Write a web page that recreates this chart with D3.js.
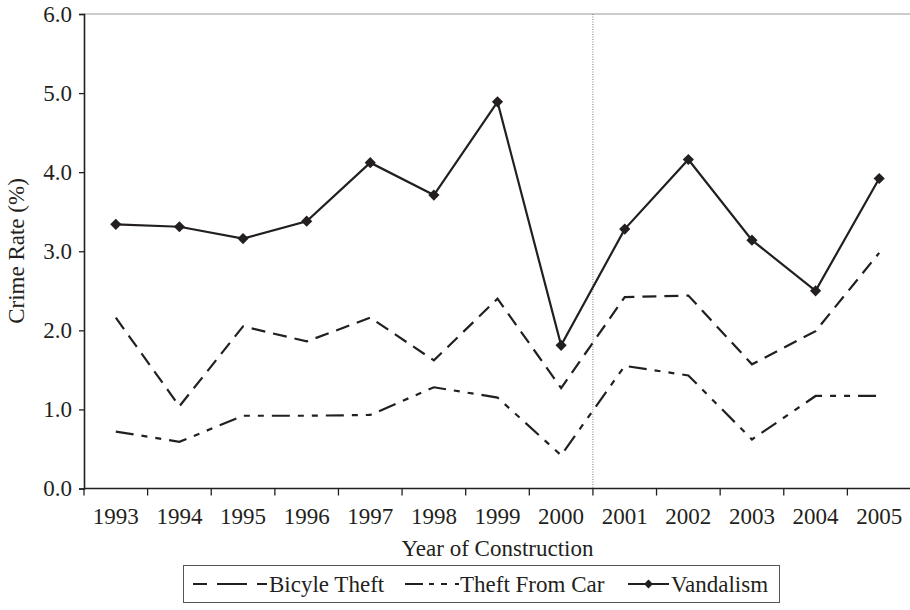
<!DOCTYPE html>
<html><head><meta charset="utf-8">
<script src="https://cdn.jsdelivr.net/npm/d3@7"></script>
<style>body{margin:0;background:#fff}svg{display:block}</style>
</head><body><svg id="c" width="910" height="610"></svg>
<script>
const years = ["1993","1994","1995","1996","1997","1998","1999","2000","2001","2002","2003","2004","2005"];
const bicycleTheft = [2.16,1.04,2.05,1.86,2.16,1.62,2.40,1.27,2.42,2.44,1.57,1.99,2.98];
const theftFromCar = [0.72,0.59,0.92,0.92,0.93,1.28,1.15,0.42,1.55,1.43,0.62,1.17,1.17];
const vandalism = [3.34,3.31,3.16,3.38,4.12,3.71,4.89,1.81,3.28,4.16,3.14,2.50,3.92];
const yTicks = [0,1,2,3,4,5,6];
const seriesNames = ["Bicyle Theft","Theft From Car","Vandalism"];

const FONT = "Liberation Serif";
const FS = 23;
const svg = d3.select("#c");
const ink = "#231f20";
const x = d3.scaleBand().domain(years).range([84, 911]);
const y = d3.scaleLinear().domain([0, 6]).range([488.5, 14]);
const cx = d => x(d) + x.bandwidth()/2;

// top border line
svg.append("line").attr("x1",84).attr("x2",910).attr("y1",y(6)).attr("y2",y(6))
  .attr("stroke","#9a9a9a").attr("stroke-width",1.2);
// vertical dotted divider between 2000 and 2001
svg.append("line").attr("x1",x("2001")).attr("x2",x("2001")).attr("y1",y(6)).attr("y2",y(0))
  .attr("stroke","#555").attr("stroke-width",0.8).attr("stroke-dasharray","1,1.5");

// y axis
const yAxis = svg.append("g").attr("transform","translate(84,0)")
  .call(d3.axisLeft(y).tickValues(yTicks).tickFormat(d3.format(".1f")).tickSize(5).tickPadding(7));
yAxis.select(".domain").attr("stroke",ink).attr("stroke-width",1.6);
yAxis.selectAll(".tick line").attr("stroke",ink).attr("stroke-width",1.3);
yAxis.selectAll("text").attr("font-size",FS).attr("font-family",FONT).attr("fill",ink);

// x axis with ticks at band edges
const xAxis = svg.append("g").attr("transform",`translate(0,${y(0)})`);
xAxis.append("line").attr("x1",84).attr("x2",911).attr("y1",0).attr("y2",0).attr("stroke",ink).attr("stroke-width",1.6);
xAxis.selectAll("line.tk").data(years).join("line").attr("class","tk")
  .attr("x1",d=>x(d)).attr("x2",d=>x(d)).attr("y1",0).attr("y2",7).attr("stroke",ink).attr("stroke-width",1.3);
xAxis.selectAll("text").data(years).join("text")
  .attr("x",d=>cx(d)).attr("y",35).attr("text-anchor","middle")
  .attr("font-size",FS).attr("font-family",FONT).attr("fill",ink).text(d=>d);

// axis titles
svg.append("text").attr("x",497.5).attr("y",556).attr("text-anchor","middle")
  .attr("font-size",FS).attr("font-family",FONT).attr("fill",ink).text("Year of Construction");
svg.append("text").attr("transform","translate(24,251) rotate(-90)").attr("text-anchor","middle")
  .attr("font-size",FS).attr("font-family",FONT).attr("fill",ink).text("Crime Rate (%)");

const line = d3.line().x((d,i)=>cx(years[i])).y(d=>y(d));
const styles = [
  {data:bicycleTheft, dash:"14,8"},
  {data:theftFromCar, dash:"18,8,6,8,6,8"},
  {data:vandalism, dash:null}
];
styles.forEach(s=>{
  svg.append("path").datum(s.data).attr("d",line).attr("fill","none")
    .attr("stroke",ink).attr("stroke-width",2.2).attr("stroke-dasharray",s.dash);
});
const diamond = d3.symbol().type(d3.symbolDiamond2).size(80);
svg.selectAll("path.mk").data(vandalism).join("path").attr("class","mk")
  .attr("d",diamond).attr("fill",ink)
  .attr("transform",(d,i)=>`translate(${cx(years[i])},${y(d)})`);

// legend
const lg = svg.append("g");
lg.append("rect").attr("x",183.5).attr("y",565.5).attr("width",596).attr("height",37)
  .attr("fill","none").attr("stroke","#555").attr("stroke-width",1);
const legendItems = [
  {name:seriesNames[0], x1:193, x2:267, dash:"14,10,30,10", tx:269},
  {name:seriesNames[1], x1:405, x2:459, dash:"18,6,5,7,6,8,4", tx:460},
  {name:seriesNames[2], x1:628, x2:669, dash:null, tx:671, marker:true}
];
legendItems.forEach(it=>{
  lg.append("line").attr("x1",it.x1).attr("x2",it.x2).attr("y1",584).attr("y2",584)
    .attr("stroke",ink).attr("stroke-width",2.2).attr("stroke-dasharray",it.dash);
  if(it.marker) lg.append("path").attr("d",d3.symbol().type(d3.symbolDiamond2).size(50))
    .attr("fill",ink).attr("transform",`translate(${(it.x1+it.x2)/2},584)`);
  lg.append("text").attr("x",it.tx).attr("y",592).attr("font-size",FS)
    .attr("font-family",FONT).attr("fill",ink).text(it.name);
});
</script></body></html>
